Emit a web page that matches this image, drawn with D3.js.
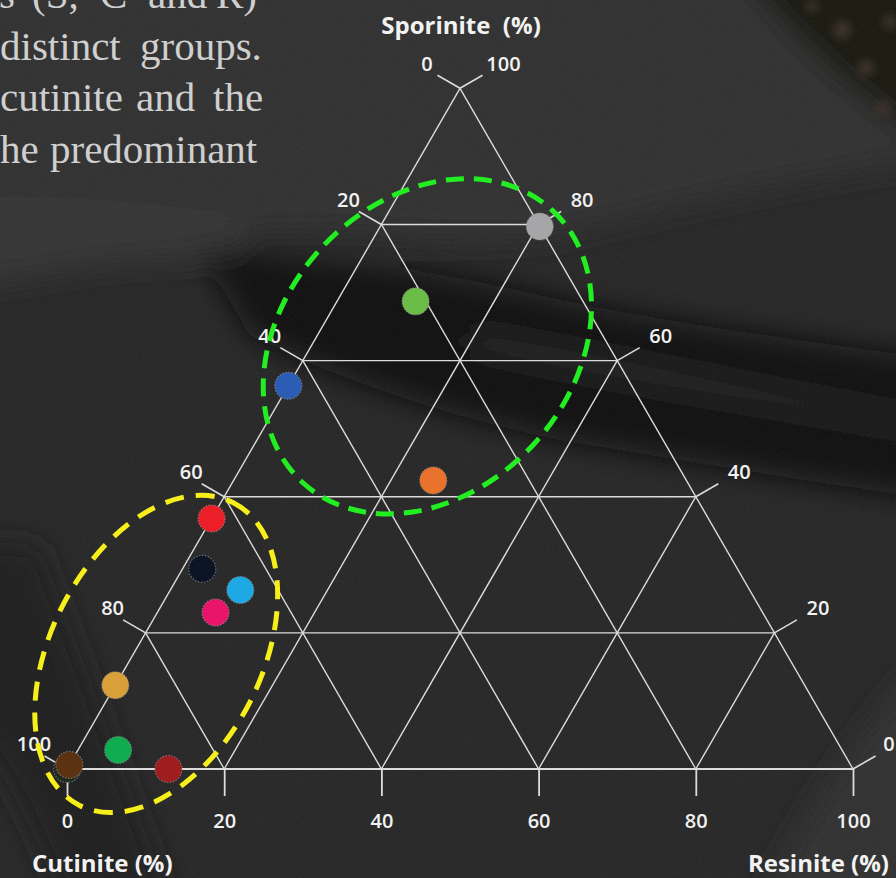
<!DOCTYPE html>
<html>
<head>
<meta charset="utf-8">
<script src="https://cdn.jsdelivr.net/npm/d3@7"></script>
<style>
  html, body { margin: 0; padding: 0; background: #232323; overflow: hidden; }
  svg { display: block; }
</style>
</head>
<body>
<svg id="chart" width="896" height="878"></svg>
<script>
// Maceral composition of each sample (%): sporinite, cutinite, resinite
const sporinite = [79.7, 68.7, 56.3, 42.4, 36.8, 29.4, 26.3, 23.0, 12.3, 2.8, 0.0, 0.0, 0.6];
const cutinite  = [ 0.0, 21.3, 43.7, 32.2, 63.2, 68.1, 64.8, 69.6, 87.7, 92.1, 87.1, 100.0, 99.4];
const resinite  = [20.3, 10.0,  0.0, 25.4,  0.0,  2.5,  8.9,  7.4,  0.0,  5.1, 12.9, 0.0, 0.0];
const sampleColors = ["#a6a6a8", "#6cbd48", "#2b5cb6", "#e9722c", "#ec1f28", "#0b1526",
                      "#1ea8e4", "#e8156b", "#d9a03a", "#10ad50", "#9f1c1f", "#1d2a1c", "#5b3313"];

// Axis tick values and titles
const tickValues = [0, 20, 40, 60, 80, 100];
const gridValues = [20, 40, 60, 80];
const titleTop = "Sporinite  (%)";
const titleLeft = "Cutinite (%)";
const titleRight = "Resinite (%)";

// Sample groups outlined by dashed ellipses: centre composition (S, C, R)
const groupNames = ["sporinite-rich", "cutinite-rich"];
const groupSporinite = [62.1, 16.9];
const groupCutinite  = [23.1, 80.2];
const groupResinite  = [14.8,  2.9];

// Paragraph lines beside the diagram
const paragraph = [
  [{w: "ls", end: 15}, {w: "(S,", x: 32}, {w: "C", x: 100}, {w: "and", x: 148}, {w: "R)", x: 216}],
  [{w: "distinct", x: 0}, {w: "groups.", x: 140}],
  [{w: "cutinite", x: 0}, {w: "and", x: 136}, {w: "the", x: 213}],
  [{w: "he", x: 0}, {w: "predominant", x: 50}]
];

const W = 896, H = 878;
const svg = d3.select("#chart");

// ---- background texture ----
const defs = svg.append("defs");
const blur = (id, sd) => defs.append("filter").attr("id", id)
  .attr("filterUnits", "userSpaceOnUse").attr("x", -100).attr("y", -100).attr("width", 1100).attr("height", 1100)
  .append("feGaussianBlur").attr("stdDeviation", sd);
blur("soft", 14);
blur("softer", 5);
const grain = defs.append("filter").attr("id", "grain")
  .attr("filterUnits", "userSpaceOnUse").attr("x", 0).attr("y", 0).attr("width", W).attr("height", H);
grain.append("feTurbulence").attr("type", "fractalNoise").attr("baseFrequency", 0.9).attr("numOctaves", 2).attr("seed", 3);
grain.append("feColorMatrix").attr("type", "matrix")
  .attr("values", "0 0 0 0 0.5  0 0 0 0 0.5  0 0 0 0 0.5  0 0 0 0.09 0");

const bg = svg.append("g");
bg.append("rect").attr("width", W).attr("height", H).attr("fill", "#242424");
const bgShapes = bg.append("g").attr("filter", "url(#soft)");
// lighter upper band
bgShapes.append("path").attr("fill", "#2d2d2d")
  .attr("d", "M-40,-40 H940 V160 C780,180 650,215 560,235 C450,250 350,225 240,235 C140,245 60,225 -40,240 Z");
// pale streak below the text block
bgShapes.append("path").attr("fill", "#333333")
  .attr("d", "M-40,200 C60,190 150,205 250,215 L240,260 C150,255 60,270 -40,290 Z");
// dark diagonal band across the middle
bgShapes.append("path").attr("fill", "#111111")
  .attr("d", "M200,250 C300,255 400,262 560,300 C680,325 800,340 940,360 L940,500 C800,480 680,460 560,440 C420,410 320,370 250,335 Z");
// faint light streak inside the dark band
bgShapes.append("path").attr("fill", "#202020")
  .attr("d", "M470,330 C560,345 700,375 940,420 L940,436 C700,396 560,370 470,350 Z");
// dark streak in the lower left
bgShapes.append("path").attr("fill", "#1a1a1a")
  .attr("d", "M-40,540 L40,545 C80,650 120,760 170,900 L60,900 C30,820 0,760 -40,720 Z");
// lighter slope in the lower right
bgShapes.append("path").attr("fill", "#2e2e2e")
  .attr("d", "M760,900 C800,820 850,740 940,640 L940,900 Z");
// darker zone at the top right with brownish grains
bgShapes.append("path").attr("fill", "#171310")
  .attr("d", "M730,-40 C780,20 840,90 940,150 L940,-40 Z");
const grains = bg.append("g").attr("filter", "url(#softer)");
[[842, 30, 9], [866, 68, 8], [884, 108, 7], [812, 6, 6], [890, 22, 7]].forEach(([cx, cy, r]) =>
  grains.append("circle").attr("cx", cx).attr("cy", cy).attr("r", r).attr("fill", "#3a2e28"));
// fine photographic grain over the whole backdrop
bg.append("rect").attr("width", W).attr("height", H).attr("filter", "url(#grain)");

// ---- paragraph text ----
const para = svg.append("g")
  .attr("font-family", "'Liberation Serif', 'Times New Roman', serif")
  .attr("font-size", 41).attr("fill", "#cfcfcf");
paragraph.forEach((line, i) => {
  const baseline = 8 + i * 51.7;
  line.forEach(word => {
    const anchoredEnd = word.end !== undefined;
    para.append("text")
      .attr("x", anchoredEnd ? word.end : word.x)
      .attr("y", baseline)
      .attr("text-anchor", anchoredEnd ? "end" : "start")
      .text(word.w);
  });
});

// ---- ternary geometry ----
const side = 786;
const triH = side * Math.sqrt(3) / 2;
const x0 = 67, yBase = 769;
// horizontal position: resinite + half of sporinite, in percent of the base
const xs = d3.scaleLinear().domain([0, 100]).range([x0, x0 + side]);
// vertical position: sporinite
const ys = d3.scaleLinear().domain([0, 100]).range([yBase, yBase - triH]);
const proj = (s, c, r) => [xs(r + s / 2), ys(s)];

const plot = svg.append("g");
const gridColor = "#dcdcdc";

// grid lines for each component
const grid = plot.append("g").attr("stroke", gridColor).attr("stroke-width", 1.4).attr("fill", "none");
gridValues.forEach(k => {
  const segs = [
    [proj(k, 100 - k, 0), proj(k, 0, 100 - k)],   // constant sporinite
    [proj(100 - k, k, 0), proj(0, k, 100 - k)],   // constant cutinite
    [proj(100 - k, 0, k), proj(0, 100 - k, k)]    // constant resinite
  ];
  segs.forEach(([a, b]) => grid.append("line")
    .attr("x1", a[0]).attr("y1", a[1]).attr("x2", b[0]).attr("y2", b[1]));
});
// triangle frame
const apex = proj(100, 0, 0), cornerL = proj(0, 100, 0), cornerR = proj(0, 0, 100);
grid.append("line").attr("x1", cornerL[0]).attr("y1", cornerL[1]).attr("x2", apex[0]).attr("y2", apex[1]);
grid.append("line").attr("x1", apex[0]).attr("y1", apex[1]).attr("x2", cornerR[0]).attr("y2", cornerR[1]);
grid.append("line").attr("x1", cornerL[0]).attr("y1", cornerL[1]).attr("x2", cornerR[0]).attr("y2", cornerR[1]).attr("stroke-width", 2);

const tickLen = 26;
const labelFont = "'Open Sans', 'Noto Sans', sans-serif";
const labelSize = 20;
const cos30 = Math.cos(Math.PI / 6), sin30 = 0.5;

// bottom axis: resinite
const bottomAxis = d3.axisBottom(xs).tickValues(tickValues).tickSize(27).tickSizeOuter(0).tickPadding(18);
const gb = plot.append("g").attr("transform", `translate(0,${yBase})`).call(bottomAxis);
gb.select(".domain").remove();
gb.selectAll(".tick line").attr("stroke", gridColor).attr("stroke-width", 1.8);
gb.selectAll(".tick text").attr("fill", "#f2f2f2").attr("font-family", labelFont)
  .attr("font-size", labelSize).attr("font-weight", 600);

// left edge: cutinite
const leftTicks = plot.append("g");
tickValues.forEach(c => {
  const p = proj(100 - c, c, 0);
  leftTicks.append("line").attr("x1", p[0]).attr("y1", p[1])
    .attr("x2", p[0] - tickLen * cos30).attr("y2", p[1] - tickLen * sin30)
    .attr("stroke", gridColor).attr("stroke-width", 1.6);
  leftTicks.append("text").attr("x", p[0] - 33).attr("y", p[1] - 25).attr("dy", "0.36em")
    .attr("text-anchor", "middle").attr("fill", "#f2f2f2").attr("font-family", labelFont)
    .attr("font-size", labelSize).attr("font-weight", 600).text(c);
});

// right edge: sporinite
const rightTicks = plot.append("g");
tickValues.forEach(s => {
  const p = proj(s, 0, 100 - s);
  rightTicks.append("line").attr("x1", p[0]).attr("y1", p[1])
    .attr("x2", p[0] + tickLen * cos30).attr("y2", p[1] - tickLen * sin30)
    .attr("stroke", gridColor).attr("stroke-width", 1.6);
  rightTicks.append("text").attr("x", Math.min(p[0] + 43.5, W - 7)).attr("y", p[1] - 25).attr("dy", "0.36em")
    .attr("text-anchor", "middle").attr("fill", "#f2f2f2").attr("font-family", labelFont)
    .attr("font-size", labelSize).attr("font-weight", 600).text(s);
});

// axis titles
const titles = plot.append("g").attr("fill", "#f2f2f2").attr("font-family", labelFont)
  .attr("font-size", 24).attr("font-weight", 700);
titles.append("text").attr("x", 461).attr("y", 34).attr("text-anchor", "middle")
  .style("white-space", "pre").text(titleTop);
titles.append("text").attr("x", 32).attr("y", 872).attr("text-anchor", "start").text(titleLeft);
titles.append("text").attr("x", 889).attr("y", 872).attr("text-anchor", "end").text(titleRight);

// ---- group outlines ----
const unit = xs(1) - xs(0);   // pixels per percent along an edge
const groupShape = [
  {rx: 23.5, ry: 18.4, angle: -47.5, color: "#22ee22", dash: "18 10"},
  {rx: 21.6, ry: 13.4, angle: -63, color: "#f6ef1b", dash: "19 12"}
];
groupNames.forEach((name, i) => {
  const c = proj(groupSporinite[i], groupCutinite[i], groupResinite[i]);
  const g = groupShape[i];
  plot.append("ellipse")
    .attr("class", "group " + name)
    .attr("cx", 0).attr("cy", 0)
    .attr("rx", g.rx * unit).attr("ry", g.ry * unit)
    .attr("transform", `translate(${c[0]},${c[1]}) rotate(${g.angle})`)
    .attr("fill", "none").attr("stroke", g.color).attr("stroke-width", 5)
    .attr("stroke-dasharray", g.dash);
});

// ---- samples ----
const order = [11, 12, 0, 1, 2, 3, 4, 5, 6, 7, 8, 9, 10];
plot.append("g").selectAll("circle").data(order).join("circle")
  .attr("cx", i => proj(sporinite[i], cutinite[i], resinite[i])[0])
  .attr("cy", i => proj(sporinite[i], cutinite[i], resinite[i])[1])
  .attr("r", 13.5)
  .attr("fill", i => sampleColors[i])
  .attr("stroke", "#8c8c8c").attr("stroke-opacity", 0.7)
  .attr("stroke-width", 1.2).attr("stroke-dasharray", "1.5 1.5");
</script>
</body>
</html>
